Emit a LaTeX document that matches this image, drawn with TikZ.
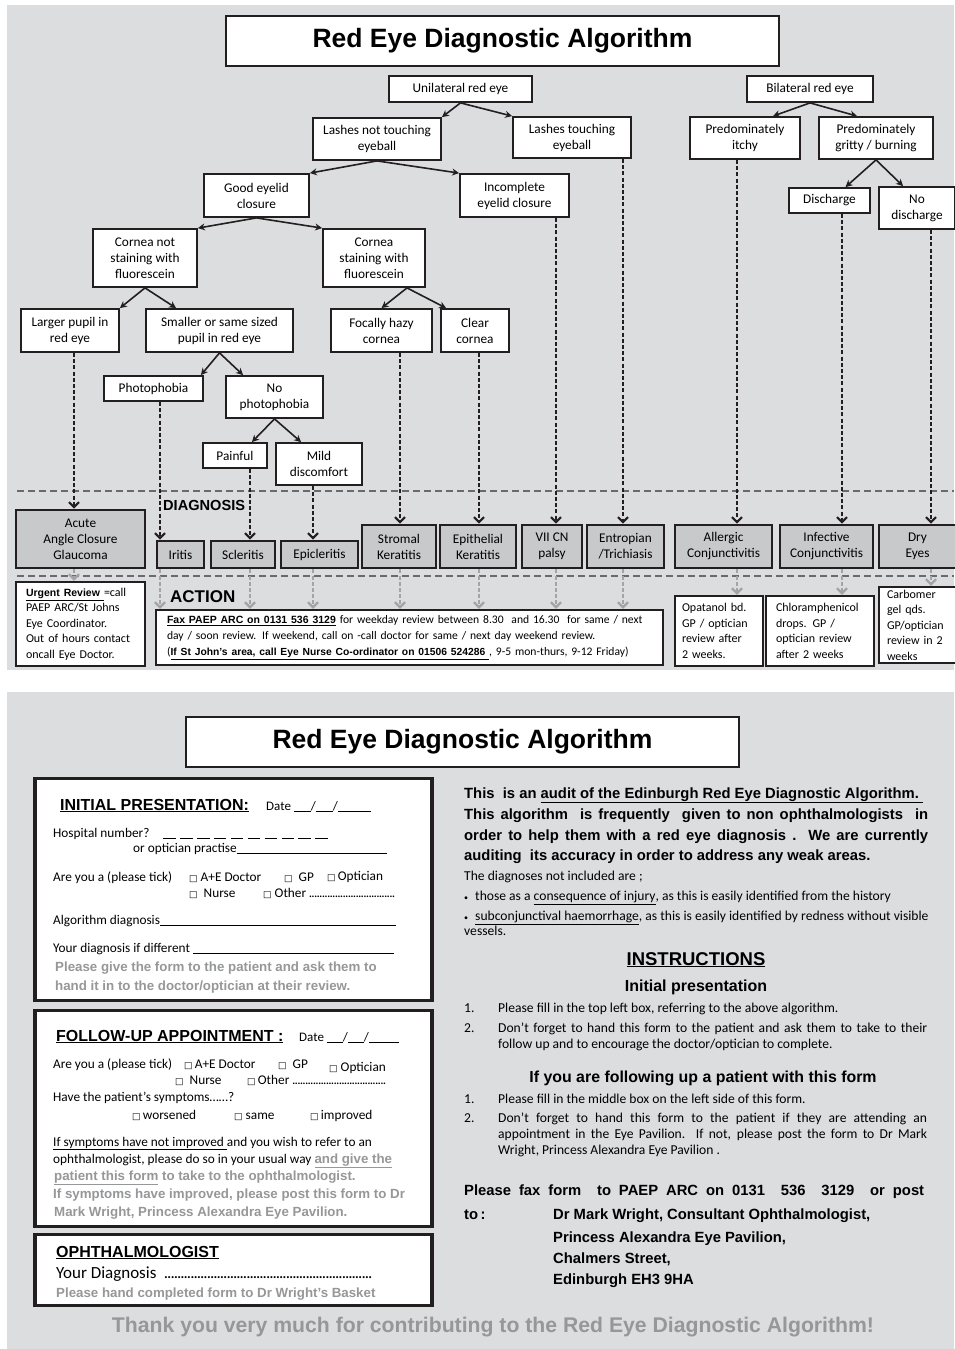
\documentclass[tikz,border=0pt]{standalone}
\usepackage{fontspec}
\setmainfont{Carlito}
\newfontfamily\arialfont{Liberation Sans}
\newfontfamily\tickfont{DejaVu Sans}
\usetikzlibrary{arrows.meta}

\definecolor{panel}{RGB}{220,221,223}
\definecolor{diagfill}{RGB}{200,201,203}
\definecolor{ink}{RGB}{35,31,32}
\definecolor{hint}{RGB}{150,151,153}
\definecolor{splitline}{RGB}{105,106,108}
\definecolor{passline}{RGB}{163,164,166}

\newcommand\fsz[2]{\fontsize{#1}{#2}\selectfont}
\newcommand\tickbox{{\tickfont\fsz{9}{9}□}}
\newcommand\fillblank[1]{\rule[-1.5pt]{#1}{0.5pt}}
\newcommand\dotrun[2]{\makebox[#1]{\leaders\hbox to #2{\hss.\hss}\hfill}}
\newcommand\listdot{\makebox[11pt][l]{\fsz{8}{8}•}}

\begin{document}
\begin{tikzpicture}[x=1pt, y=-1pt,
  box/.style={draw=ink, line width=1.8pt, fill=white, align=center, inner sep=0pt, font=\fsz{13.3}{16}},
  diag/.style={box, fill=diagfill, line width=2.6pt},
  act/.style={draw=ink, line width=2.2pt, fill=white, align=left, inner ysep=0pt, font=\fsz{12}{15.5}},
  banner/.style={draw=ink, line width=2.2pt, fill=white, minimum width=553pt, minimum height=50pt, font=\arialfont\bfseries\fsz{26.5}{30}},
  form/.style={draw=ink, line width=3.5pt, fill=white, minimum width=397pt},
  link/.style={draw=ink, line width=1.6pt, -{Stealth[length=7pt,width=7pt]}},
  flow/.style={draw=ink, line width=2.2pt, dash pattern=on 4pt off 2.2pt, -{Straight Barb[length=5pt,width=10pt]}},
  pass/.style={flow, draw=passline, line width=2.4pt},
  split/.style={draw=splitline, line width=1.4pt, dash pattern=on 7pt off 4pt},
  txt/.style={anchor=base west, inner sep=0pt, font=\fsz{13.3}{16}},
  note/.style={txt, text=hint, font=\arialfont\bfseries\fsz{13.3}{16}},
  info/.style={txt, font=\fsz{13.6}{16}},
  lead/.style={txt, font=\arialfont\bfseries\fsz{14.8}{17}}
]
  \useasboundingbox (0,0) rectangle (954,1349);
  \fill[white] (0,0) rectangle (954,1349);

  % Panels
  \fill[panel] (7,5) rectangle (954,670);
  \fill[panel] (7,692) rectangle (954,1349);

  % Titles
  \node[banner] (head) at (502.5,41) {Red Eye Diagnostic Algorithm};
  \node[banner] (head2) at (462.5,742) {Red Eye Diagnostic Algorithm};

  % Section lines
  \draw[split] (17,491) -- (954,491);
  \draw[split] (17,576) -- (954,576);
  \node[txt, font=\arialfont\bfseries\fsz{14.6}{16}] (diagLabel) at (163,510) {DIAGNOSIS};
  \node[txt, font=\arialfont\bfseries\fsz{17}{18}] (actLabel) at (170,602) {ACTION};

  % Unilateral branch
  \node[box, minimum width=143pt, minimum height=26pt] (uni) at (460.5,89) {Unilateral red eye};
  \node[box, minimum width=128pt, minimum height=42pt] (lnt) at (377,139) {Lashes not touching\\eyeball};
  \node[box, minimum width=118pt, minimum height=41pt] (lt) at (572,137.5) {Lashes touching\\eyeball};
  \node[box, minimum width=105pt, minimum height=43pt] (good) at (256.5,195.5) {Good eyelid\\closure};
  \node[box, minimum width=109pt, minimum height=43pt] (inc) at (514.5,195.5) {Incomplete\\eyelid closure};
  \node[box, minimum width=104pt, minimum height=58pt] (cns) at (145,258) {Cornea not\\staining with\\fluorescein};
  \node[box, minimum width=102pt, minimum height=58pt] (cs) at (374,258) {Cornea\\staining with\\fluorescein};
  \node[box, minimum width=98pt, minimum height=43pt] (larger) at (70,330.5) {Larger pupil in\\red eye};
  \node[box, minimum width=147pt, minimum height=43pt] (smaller) at (219.5,330.5) {Smaller or same sized\\pupil in red eye};
  \node[box, minimum width=101pt, minimum height=43pt] (focal) at (381.5,330.5) {Focally hazy\\cornea};
  \node[box, minimum width=68pt, minimum height=43pt] (clear) at (475,330.5) {Clear\\cornea};
  \node[box, minimum width=99pt, minimum height=25pt] (photo) at (153.5,388.5) {Photophobia};
  \node[box, minimum width=97pt, minimum height=42pt] (nophoto) at (274.5,397) {No\\photophobia};
  \node[box, minimum width=64pt, minimum height=25pt] (painful) at (235,455.5) {Painful};
  \node[box, minimum width=86pt, minimum height=42pt] (mild) at (319,464) {Mild\\discomfort};

  % Bilateral branch
  \node[box, minimum width=126pt, minimum height=26pt] (bil) at (810,89) {Bilateral red eye};
  \node[box, minimum width=110pt, minimum height=42pt] (itchy) at (745,138) {Predominately\\itchy};
  \node[box, minimum width=114pt, minimum height=42pt] (gritty) at (876,138) {Predominately\\gritty / burning};
  \node[box, minimum width=81pt, minimum height=25pt] (disch) at (829.5,200.5) {Discharge};
  \node[box, minimum width=76pt, minimum height=42pt] (nodisch) at (917,208) {No\\discharge};

  % Diagnoses
  \node[diag, minimum width=129pt, minimum height=58pt] (acute) at (80.5,539) {Acute\\Angle Closure\\Glaucoma};
  \node[diag, minimum width=47pt, minimum height=27pt] (iritis) at (180.5,554.5) {Iritis};
  \node[diag, minimum width=64pt, minimum height=27pt] (scler) at (243,554.5) {Scleritis};
  \node[diag, minimum width=77pt, minimum height=27pt] (epic) at (319.5,554.5) {Epicleritis};
  \node[diag, minimum width=74pt, minimum height=43pt] (stromal) at (399,546.5) {Stromal\\Keratitis};
  \node[diag, minimum width=76pt, minimum height=43pt] (epith) at (478,546.5) {Epithelial\\Keratitis};
  \node[diag, minimum width=60pt, minimum height=43pt] (vii) at (552,546.5) {VII CN\\palsy};
  \node[diag, minimum width=77pt, minimum height=43pt] (entrop) at (625.5,546.5) {Entropian\\/Trichiasis};
  \node[diag, minimum width=97pt, minimum height=43pt] (allergic) at (723.5,546.5) {Allergic\\Conjunctivitis};
  \node[diag, minimum width=93pt, minimum height=43pt] (infect) at (826.5,546.5) {Infective\\Conjunctivitis};
  \node[diag, minimum width=77pt, minimum height=43pt] (dry) at (917.5,546.5) {Dry\\Eyes};

  % Actions
  \node[act, inner xsep=10pt, text width=109pt, minimum height=84pt] (urgent) at (80.5,624)
    {{\arialfont\bfseries\fsz{10.5}{15.5}\underline{Urgent Review\ }}=call\\PAEP ARC/St Johns\\Eye Coordinator.\\Out of hours contact\\oncall Eye Doctor.};
  \node[act, inner xsep=11pt, text width=485pt, minimum height=55pt, font=\fsz{11.6}{16}] (fax) at (409.5,637.5)
    {{\arialfont\bfseries\fsz{10.5}{16}\underline{Fax PAEP ARC on 0131 536 3129}} for weekday review between 8.30~ and 16.30~ for same / next\\
     day / soon review. If weekend, call on -call doctor for same / next day weekend review.\\
     ({\arialfont\bfseries\fsz{10.3}{16}\underline{If St John’s area, call Eye Nurse Co-ordinator on 01506 524286\ }}, 9-5 mon-thurs, 9-12 Friday)};
  \node[act, inner xsep=7pt, text width=74pt, minimum height=70pt] (opat) at (719,631) {Opatanol bd.\\GP / optician\\review after\\2 weeks.};
  \node[act, inner xsep=10pt, text width=88pt, minimum height=70pt] (chlor) at (820,631) {Chloramphenicol\\drops. GP /\\optician review\\after 2 weeks};
  \node[act, inner xsep=8pt, text width=61pt, minimum height=76pt] (carb) at (917.5,625) {Carbomer\\gel qds.\\GP/optician\\review in 2\\weeks};

  % Tree links
  \draw[link] (uni.south) -- (lnt.north east);
  \draw[link] (uni.south) -- (lt.north west);
  \draw[link] (lnt.south) -- (good.north east);
  \draw[link] (lnt.south) -- (inc.north west);
  \draw[link] (good.south) -- (cns.north east);
  \draw[link] (good.south) -- (cs.north west);
  \draw[link] (cns.south) -- (larger.north east);
  \draw[link] (cns.south) -- ([xshift=31pt]smaller.north west);
  \draw[link] ([xshift=33pt]cs.south) -- (focal.north);
  \draw[link] ([xshift=33pt]cs.south) -- ([xshift=6pt]clear.north west);
  \draw[link] (smaller.south) -- ([xshift=-3pt]photo.north east);
  \draw[link] (smaller.south) -- ([xshift=18pt]nophoto.north west);
  \draw[link] (nophoto.south) -- ([xshift=-16pt]painful.north east);
  \draw[link] (nophoto.south) -- ([xshift=26pt]mild.north west);
  \draw[link] (bil.south) -- ([xshift=28pt]itchy.north);
  \draw[link] (bil.south) -- ([xshift=39pt]gritty.north west);
  \draw[link] (gritty.south) -- ([xshift=16pt]disch.north);
  \draw[link] (gritty.south) -- ([xshift=25pt]nodisch.north west);

  % Into diagnoses
  \draw[flow] ([xshift=4pt]larger.south) -- ([xshift=4pt]larger.south |- acute.north);
  \draw[flow] ([xshift=6.5pt]photo.south) -- ([xshift=6.5pt]photo.south |- iritis.north);
  \draw[flow] ([xshift=15pt]painful.south) -- ([xshift=15pt]painful.south |- scler.north);
  \draw[flow] ([xshift=-6pt]mild.south) -- ([xshift=-6pt]mild.south |- epic.north);
  \draw[flow] ([xshift=18.5pt]focal.south) -- ([xshift=18.5pt]focal.south |- stromal.north);
  \draw[flow] ([xshift=4pt]clear.south) -- ([xshift=4pt]clear.south |- epith.north);
  \draw[flow] ([xshift=41.5pt]inc.south) -- ([xshift=41.5pt]inc.south |- vii.north);
  \draw[flow] ([xshift=51pt]lt.south) -- ([xshift=51pt]lt.south |- entrop.north);
  \draw[flow] ([xshift=-8pt]itchy.south) -- ([xshift=-8pt]itchy.south |- allergic.north);
  \draw[flow] ([xshift=12.5pt]disch.south) -- ([xshift=12.5pt]disch.south |- infect.north);
  \draw[flow] ([xshift=14pt]nodisch.south) -- ([xshift=14pt]nodisch.south |- dry.north);

  % Into actions
  \draw[pass] ([xshift=-6.5pt]acute.south) -- ([xshift=-6.5pt]acute.south |- urgent.north);
  \draw[pass] ([xshift=-20.5pt]iritis.south) -- ([xshift=-20.5pt]iritis.south |- fax.north);
  \draw[pass] ([xshift=7pt]scler.south) -- ([xshift=7pt]scler.south |- fax.north);
  \draw[pass] ([xshift=-6.5pt]epic.south) -- ([xshift=-6.5pt]epic.south |- fax.north);
  \draw[pass] ([xshift=1pt]stromal.south) -- ([xshift=1pt]stromal.south |- fax.north);
  \draw[pass] ([xshift=1pt]epith.south) -- ([xshift=1pt]epith.south |- fax.north);
  \draw[pass] ([xshift=4pt]vii.south) -- ([xshift=4pt]vii.south |- fax.north);
  \draw[pass] ([xshift=-2.5pt]entrop.south) -- ([xshift=-2.5pt]entrop.south |- fax.north);
  \draw[pass] ([xshift=13.5pt]allergic.south) -- ([xshift=13.5pt]allergic.south |- opat.north);
  \draw[pass] ([xshift=15.5pt]infect.south) -- ([xshift=15.5pt]infect.south |- chlor.north);
  \draw[pass] ([xshift=13.5pt]dry.south) -- ([xshift=13.5pt]dry.south |- carb.north);

  % Form boxes
  \node[form, minimum height=222pt] (initial) at (233.5,889.5) {};
  \node[form, minimum height=216pt] (followup) at (233.5,1118.5) {};
  \node[form, minimum height=71pt] (ophth) at (233.5,1270) {};

  % Initial presentation
  \node[txt, font=\arialfont\bfseries\fsz{16}{18}] (ipHead) at (60,810) {\underline{INITIAL PRESENTATION:}};
  \node[txt, font=\fsz{13}{15}] (ipDate) at (266,810) {Date \fillblank{17pt}/\fillblank{17pt}/\fillblank{33pt}};
  \node[txt] (ipHosp) at (53,837) {Hospital number?};
  \node[txt] (ipHospNo) at (163,837) {\fillblank{12.5pt}\hspace{4.4pt}\fillblank{12.5pt}\hspace{4.4pt}\fillblank{12.5pt}\hspace{4.4pt}\fillblank{12.5pt}\hspace{4.4pt}\fillblank{12.5pt}\hspace{4.4pt}\fillblank{12.5pt}\hspace{4.4pt}\fillblank{12.5pt}\hspace{4.4pt}\fillblank{12.5pt}\hspace{4.4pt}\fillblank{12.5pt}\hspace{4.4pt}\fillblank{12.5pt}};
  \node[txt] (ipPractise) at (133,852) {or optician practise\fillblank{150pt}};
  \node[txt] (ipRole) at (53,881) {Are you a (please tick)};
  \node[txt] (ipAE) at (189,881) {\tickbox\ A+E Doctor};
  \node[txt] (ipGP) at (284,881) {\tickbox\ \ GP};
  \node[txt] (ipOptician) at (327,880) {\tickbox\,Optician};
  \node[txt] (ipNurse) at (189,897) {\tickbox\ \ Nurse};
  \node[txt] (ipOther) at (263,897) {\tickbox\ Other \dotrun{86pt}{2.6pt}};
  \node[txt] (ipAlgo) at (53,924) {Algorithm diagnosis\fillblank{236pt}};
  \node[txt] (ipOwn) at (53,952) {Your diagnosis if different \fillblank{201pt}};
  \node[note] (ipNoteA) at (55,971) {Please give the form to the patient and ask them to};
  \node[note] (ipNoteB) at (55,990) {hand it in to the doctor/optician at their review.};

  % Follow-up appointment
  \node[txt, font=\arialfont\bfseries\fsz{16}{18}] (fuHead) at (56,1041) {\underline{FOLLOW-UP APPOINTMENT :}};
  \node[txt, font=\fsz{13}{15}] (fuDate) at (299,1041) {Date \fillblank{16pt}/\fillblank{16pt}/\fillblank{30pt}};
  \node[txt] (fuRole) at (53,1068) {Are you a (please tick)};
  \node[txt] (fuAE) at (184,1068) {\tickbox\,A+E Doctor};
  \node[txt] (fuGP) at (278,1068) {\tickbox\ \ GP};
  \node[txt] (fuOptician) at (329,1071) {\tickbox\ Optician};
  \node[txt] (fuNurse) at (175,1084) {\tickbox\ \ Nurse};
  \node[txt] (fuOther) at (247,1084) {\tickbox\,Other \dotrun{95pt}{2.6pt}};
  \node[txt] (fuAsk) at (53,1101) {Have the patient’s symptoms……?};
  \node[txt] (fuWorse) at (132,1119) {\tickbox\,worsened};
  \node[txt] (fuSame) at (234,1119) {\tickbox\ same};
  \node[txt] (fuBetter) at (310,1119) {\tickbox\,improved};
  \node[txt] (fuReferA) at (53,1146) {\underline{If symptoms have not improved\ }and you wish to refer to an};
  \node[txt] (fuReferB) at (53,1163) {ophthalmologist, please do so in your usual way {\color{hint}\arialfont\bfseries\fsz{13.3}{16}\underline{and give the}}};
  \node[note] (fuReferC) at (54,1180) {\underline{patient this form} to take to the ophthalmologist.};
  \node[note] (fuPostA) at (53,1198) {If symptoms have improved, please post this form to Dr};
  \node[note] (fuPostB) at (54,1216) {Mark Wright, Princess Alexandra Eye Pavilion.};

  % Ophthalmologist
  \node[txt, font=\arialfont\bfseries\fsz{16}{18}] (opHead) at (56,1257) {\underline{OPHTHALMOLOGIST}};
  \node[txt, font=\fsz{17}{19}] (opDiag) at (56,1278) {Your Diagnosis\hspace{8pt}\dotrun{210pt}{3.3pt}};
  \node[note] (opNote) at (56,1297) {Please hand completed form to Dr Wright’s Basket};

  % Audit text
  \node[lead] (auditA) at (464,798) {This~ is an \underline{audit of the Edinburgh Red Eye Diagnostic Algorithm.\ }};
  \node[lead] (auditB) at (464,819) {\makebox[464pt][s]{This algorithm~ is frequently~ given to non ophthalmologists~ in}};
  \node[lead] (auditC) at (464,840) {\makebox[464pt][s]{order to help them with a red eye diagnosis . We are currently}};
  \node[lead] (auditD) at (464,860) {auditing~ its accuracy in order to address any weak areas.};
  \node[info] (notIncl) at (464,880) {The diagnoses not included are ;};
  \node[info] (bulletA) at (464,900) {\listdot those as a \underline{consequence of injury}, as this is easily identified from the history};
  \node[info] (bulletB) at (464,920) {\listdot\underline{subconjunctival haemorrhage}, as this is easily identified by redness without visible};
  \node[info] (bulletC) at (464,935) {vessels.};

  % Instructions
  \node[anchor=base, inner sep=0pt, font=\arialfont\bfseries\fsz{18.5}{20}] (instrHead) at (696,965) {\underline{INSTRUCTIONS}};
  \node[anchor=base, inner sep=0pt, font=\arialfont\bfseries\fsz{16}{18}] (initHead) at (696,991) {Initial presentation};
  \node[info] (stepA1) at (464,1012) {\makebox[34pt][l]{1.}Please fill in the top left box, referring to the above algorithm.};
  \node[info] (stepA2) at (464,1032) {\makebox[34pt][l]{2.}\makebox[429pt][s]{Don’t forget to hand this form to the patient and ask them to take to their}};
  \node[info] (stepA2b) at (498,1048) {follow up and to encourage the doctor/optician to complete.};
  \node[anchor=base, inner sep=0pt, font=\arialfont\bfseries\fsz{15.9}{18}] (followHead) at (703,1082) {If you are following up a patient with this form};
  \node[info] (stepB1) at (464,1103) {\makebox[34pt][l]{1.}Please fill in the middle box on the left side of this form.};
  \node[info] (stepB2) at (464,1122) {\makebox[34pt][l]{2.}\makebox[429pt][s]{Don’t forget to hand this form to the patient if they are attending an}};
  \node[info] (stepB2b) at (498,1138) {\makebox[429pt][s]{appointment in the Eye Pavilion. If not, please post the form to Dr Mark}};
  \node[info] (stepB2c) at (498,1154) {Wright, Princess Alexandra Eye Pavilion .};

  % Fax or post
  \node[lead] (faxA) at (464,1195) {\makebox[460pt][s]{Please fax form~ to PAEP ARC on 0131~ 536~ 3129~ or post}};
  \node[lead] (faxTo) at (464,1219) {to\,:};
  \node[lead] (addrA) at (553,1219) {Dr Mark Wright, Consultant Ophthalmologist,};
  \node[lead] (addrB) at (553,1242) {Princess Alexandra Eye Pavilion,};
  \node[lead] (addrC) at (553,1263) {Chalmers Street,};
  \node[lead] (addrD) at (553,1284) {Edinburgh EH3 9HA};

  % Thanks
  \node[anchor=base, inner sep=0pt, text=hint, font=\arialfont\bfseries\fsz{21.2}{24}] (thanks) at (493,1332) {Thank you very much for contributing to the Red Eye Diagnostic Algorithm!};
\end{tikzpicture}
\end{document}
